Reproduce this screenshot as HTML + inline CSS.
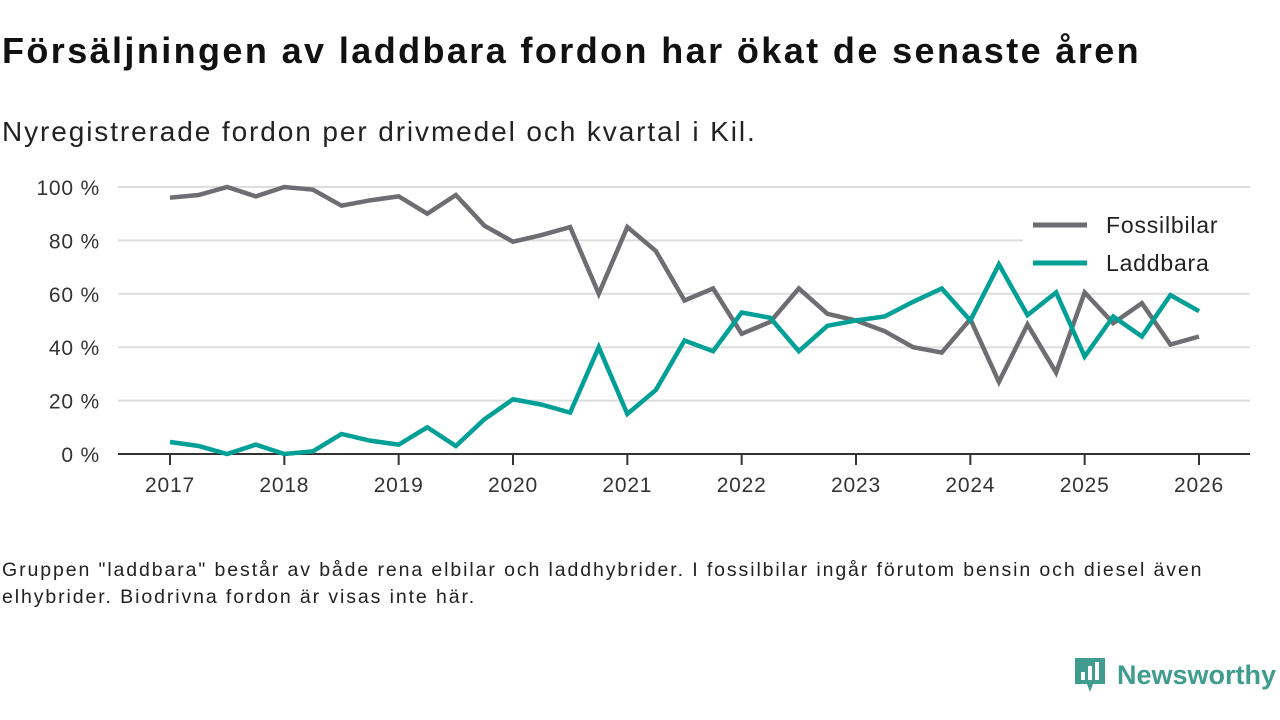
<!DOCTYPE html>
<html><head><meta charset="utf-8"><style>
body{margin:0;width:1280px;height:720px;background:#fff;font-family:"Liberation Sans",sans-serif;overflow:hidden;position:relative;color:#111}
#title{position:absolute;left:2px;top:30px;font-size:36px;font-weight:bold;letter-spacing:2.4px;white-space:nowrap}
#sub{position:absolute;left:2px;top:116px;font-size:28px;color:#222;letter-spacing:1.9px;white-space:nowrap}
#note{position:absolute;left:2px;top:557px;font-size:19.5px;line-height:27px;width:1230px;color:#222;letter-spacing:1.9px}
svg{position:absolute;left:0;top:0}
</style></head><body>
<div id="title">Försäljningen av laddbara fordon har ökat de senaste åren</div>
<div id="sub">Nyregistrerade fordon per drivmedel och kvartal i Kil.</div>
<div id="note">Gruppen "laddbara" består av både rena elbilar och laddhybrider. I fossilbilar ingår förutom bensin och diesel även elhybrider. Biodrivna fordon är visas inte här.</div>
<svg id="chart" width="1280" height="720"></svg>
<div style="position:absolute;left:1073px;top:656px;display:flex;align-items:center">
<svg width="34" height="38" style="position:static"><path d="M2 2h30v26H20l-3 8-3-8H2z" fill="#3f9c8f"/><rect x="8" y="16" width="4" height="8" fill="#fff"/><rect x="15" y="10" width="4" height="14" fill="#fff"/><rect x="22" y="6" width="4" height="18" fill="#fff"/></svg>
<span style="font-size:27px;font-weight:bold;color:#3f9c8f;margin-left:10px">Newsworthy</span></div>
<script>
const years=[2017,2018,2019,2020,2021,2022,2023,2024,2025,2026];
const yTicks=[0,20,40,60,80,100];
const fossil=[96,97,100,96.5,100,99,93,95,96.5,90,97,85.5,79.5,82,85,60,85,76,57.5,62,45,49.5,62,52.5,50,46,40,38,50.5,27,48.5,30.5,60.5,49,56.5,41,44];
const laddbara=[4.5,3,0,3.5,0,1,7.5,5,3.5,10,3,13,20.5,18.5,15.5,40,15,24,42.5,38.5,53,51,38.5,48,50,51.5,57,62,50,71,52,60.5,36.5,51.5,44,59.5,53.5];
const svg=document.getElementById('chart');const NS='http://www.w3.org/2000/svg';
const X=t=>170+(t-2017)*(1199-170)/9;
const Y=v=>454-v*(454-187)/100;
function mk(tag,a){const e=document.createElementNS(NS,tag);for(const k in a)e.setAttribute(k,a[k]);svg.appendChild(e);return e;}
yTicks.forEach(v=>{
 if(v>0){const g=mk('line',{x1:118,x2:1250,y1:Y(v),y2:Y(v),stroke:'#ddd','stroke-width':2});
 
 }
 const t=mk('text',{x:100,y:Y(v)+8,'text-anchor':'end','font-size':21,fill:'#333','font-family':'Liberation Sans','letter-spacing':0.8});t.textContent=v+' %';
 
 
});
const ax=mk('line',{x1:118,x2:1250,y1:454,y2:454,stroke:'#333','stroke-width':2});


years.forEach(y=>{
 const tk=mk('line',{x1:X(y),x2:X(y),y1:454,y2:465,stroke:'#333','stroke-width':2});
 
 
 const t=mk('text',{x:X(y),y:492,'text-anchor':'middle','font-size':21,fill:'#333','font-family':'Liberation Sans','letter-spacing':0.8});t.textContent=y;
 
 
});
function line(d,c,name){const p=mk('polyline',{points:d.map((v,i)=>X(2017+i/4)+','+Y(v)).join(' '),fill:'none',stroke:c,'stroke-width':4.5,'stroke-linejoin':'miter'});
 
 }
line(fossil,'#6e6d72','fossilbilar-line');
line(laddbara,'#00a096','laddbara-line');
const lb=mk('rect',{x:1023,y:205,width:227,height:80,fill:'#fff'});


[['Fossilbilar','#6e6d72',225],['Laddbara','#00a096',263]].forEach(([n,c,y])=>{
 const l=mk('line',{x1:1033,x2:1087,y1:y,y2:y,stroke:c,'stroke-width':5});
 
 
 const t=mk('text',{x:1106,y:y+8,'font-size':23,fill:'#222','font-family':'Liberation Sans','letter-spacing':0.8});t.textContent=n;
 
 
});
</script>
</body></html>
